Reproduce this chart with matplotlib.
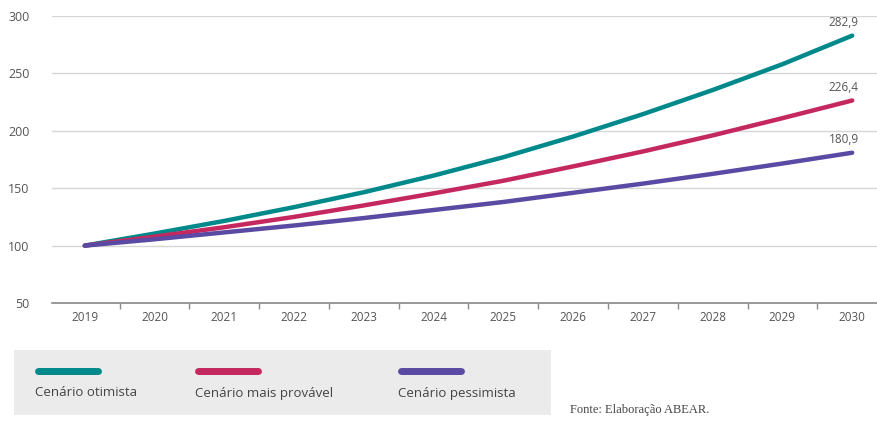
import matplotlib
matplotlib.use("Agg")
import matplotlib.pyplot as plt
from matplotlib.lines import Line2D
from matplotlib.patches import Rectangle
import numpy as np

years = ["2019", "2020", "2021", "2022", "2023", "2024", "2025", "2026",
         "2027", "2028", "2029", "2030"]
otimista = [100, 110.5, 121.5, 133.5, 146.5, 161, 177, 195, 214.5, 235.5, 258, 282.9]
provavel = [100, 107.8, 116, 125, 135, 145.5, 156.5, 169, 182, 196, 211, 226.4]
pessimista = [100, 105.5, 111.5, 117.5, 124, 131, 138, 146, 154, 162.5, 171.5, 180.9]
series_names = ["Cenário otimista", "Cenário mais provável", "Cenário pessimista"]
colors = ["#00898a", "#c4285e", "#5a4aa3"]
yticks = [50, 100, 150, 200, 250, 300]

W, H = 878, 421
fig = plt.figure(figsize=(W / 100, H / 100), dpi=100)
plt.rcParams["font.family"] = ["Open Sans", "DejaVu Sans"]

def fx(px):
    return px / W

def fy(py):
    return 1 - py / H

ax = fig.add_axes([fx(52), fy(303), fx(878) - fx(52), fy(16) - fy(303)])
x = np.arange(len(years))

for vals, c in zip([otimista, provavel, pessimista], colors):
    ax.plot(x, vals, color=c, lw=3.2, solid_capstyle="round",
            solid_joinstyle="round", zorder=3)
    ax.annotate(f"{vals[-1]:.1f}".replace(".", ","), (x[-1], vals[-1]),
                xytext=(-6, 5), textcoords="offset points", ha="center",
                va="bottom", fontsize=8.5, color="#555555")

ax.set_ylim(50, 300)
ax.set_xlim(-0.47, 11.37)
ax.set_yticks(yticks)
ax.set_yticklabels([str(v) for v in yticks])
ax.set_xticks(x)
ax.set_xticklabels(years)
ax.set_xticks(x[:-1] + 0.5, minor=True)
ax.tick_params(axis="y", length=0, pad=16, labelsize=9, labelcolor="#555555")
ax.tick_params(axis="x", which="major", length=0, pad=6, labelsize=8.5,
               labelcolor="#555555")
ax.tick_params(axis="x", which="minor", length=4, width=1, color="#888888")
ax.grid(axis="y", color="#d6d6d6", lw=1)
ax.set_axisbelow(True)
for s in ["left", "right", "top"]:
    ax.spines[s].set_visible(False)
ax.spines["bottom"].set_color("#888888")
ax.spines["bottom"].set_linewidth(1.2)

# legend panel
fig.patches.append(Rectangle((fx(14), fy(415)), fx(551) - fx(14), fy(350) - fy(415),
                             transform=fig.transFigure, facecolor="#ebebeb",
                             edgecolor="none", zorder=0))
legend_x = [35, 195, 398]
for lx, name, c in zip(legend_x, series_names, colors):
    fig.add_artist(Line2D([fx(lx + 3), fx(lx + 63)], [fy(371), fy(371)],
                          transform=fig.transFigure, color=c, lw=5,
                          solid_capstyle="round"))
    fig.text(fx(lx), fy(393), name, fontsize=9.5, color="#444444",
             ha="left", va="center")

fig.text(fx(570), fy(410), "Fonte: Elaboração ABEAR.", fontsize=9,
         family=["Liberation Serif"], color="#444444", ha="left", va="center")

fig.savefig("out.png", dpi=100)
